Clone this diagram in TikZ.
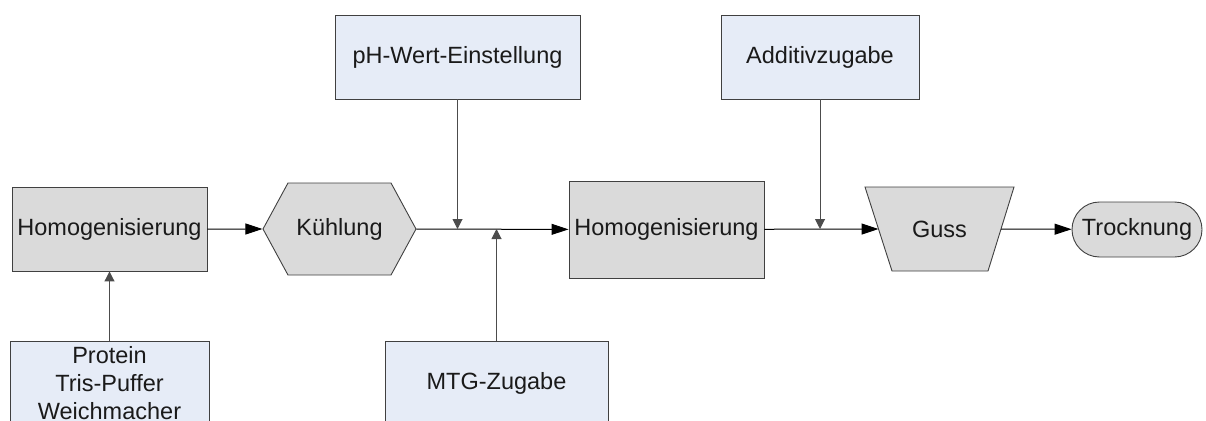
\documentclass[tikz,border=0pt]{standalone}
\usepackage{fontspec}
\setmainfont{Liberation Sans}
\usetikzlibrary{arrows.meta,shapes.geometric,shapes.symbols,shapes.misc}
\definecolor{grayfill}{HTML}{DADADA}
\definecolor{bluefill}{HTML}{E6ECF7}
\definecolor{bordc}{HTML}{404040}
\definecolor{txtc}{HTML}{1A1A1A}
\tikzset{
  base/.style={draw=bordc, line width=0.9pt, text=txtc, inner sep=0pt, align=center,
    font=\fontsize{23.5}{28}\selectfont},
  grayrect/.style={base, rectangle, fill=grayfill},
  bluerect/.style={base, rectangle, fill=bluefill},
  hexa/.style={base, signal, signal to=west and east, signal pointer angle=123, fill=grayfill},
  shapeline/.style={draw=bordc, line width=0.9pt, fill=grayfill},
  label/.style={text=txtc, inner sep=0pt, font=\fontsize{23.5}{28}\selectfont},
  stadium/.style={base, rounded rectangle, fill=grayfill},
  flow/.style={line width=1pt, black, -{Triangle[length=17pt,width=11pt]}},
  feed/.style={line width=1pt, black!70, -{Triangle[length=10pt,width=10pt]}}
}
\begin{document}
\begin{tikzpicture}[x=1pt,y=-1pt]
\useasboundingbox (0,0) rectangle (1206,420);
\clip (0,0) rectangle (1206,420);
\node[grayrect, minimum width=195pt, minimum height=84pt] (h1) at (109.5,229) {Homogenisierung};
\node[hexa, minimum width=153pt, minimum height=92pt] (kuehl) at (339.5,229) {Kühlung};
\node[bluerect, minimum width=245pt, minimum height=84pt] (ph) at (457.5,57) {pH-Wert-Einstellung};
\node[bluerect, minimum width=223pt, minimum height=84pt] (mtg) at (496.5,383) {MTG-Zugabe};
\node[grayrect, minimum width=195pt, minimum height=97pt] (h2) at (666.5,229.5) {Homogenisierung};
\node[bluerect, minimum width=198pt, minimum height=84pt] (add) at (820,57) {Additivzugabe};
% Guss trapezium
\coordinate (gTL) at (865,187);
\coordinate (gTR) at (1014,187);
\coordinate (gBR) at (988,271);
\coordinate (gBL) at (892,271);
\coordinate (gussW) at (878.5,229);
\coordinate (gussE) at (1001,229);
\draw[shapeline] (gTL) -- (gTR) -- (gBR) -- (gBL) -- cycle;
\node[label] (guss) at (939.5,229) {Guss};
\node[stadium, minimum width=130pt, minimum height=55pt] (trock) at (1137,229.5) {Trocknung};
\node[bluerect, minimum width=199pt, minimum height=84pt] (prot) at (109.5,383) {Protein\\Tris-Puffer\\Weichmacher};
\draw[flow] (h1) -- (kuehl);
\draw[flow] (kuehl) -- (h2);
\draw[feed] (ph) -- (ph |- kuehl);
\draw[feed] (mtg) -- (mtg |- kuehl);
\draw[flow] (h2) -- (gussW);
\draw[feed] (add) -- (add |- guss);
\draw[flow] (gussE) -- (trock);
\draw[feed] (prot) -- (h1);
\end{tikzpicture}
\end{document}
